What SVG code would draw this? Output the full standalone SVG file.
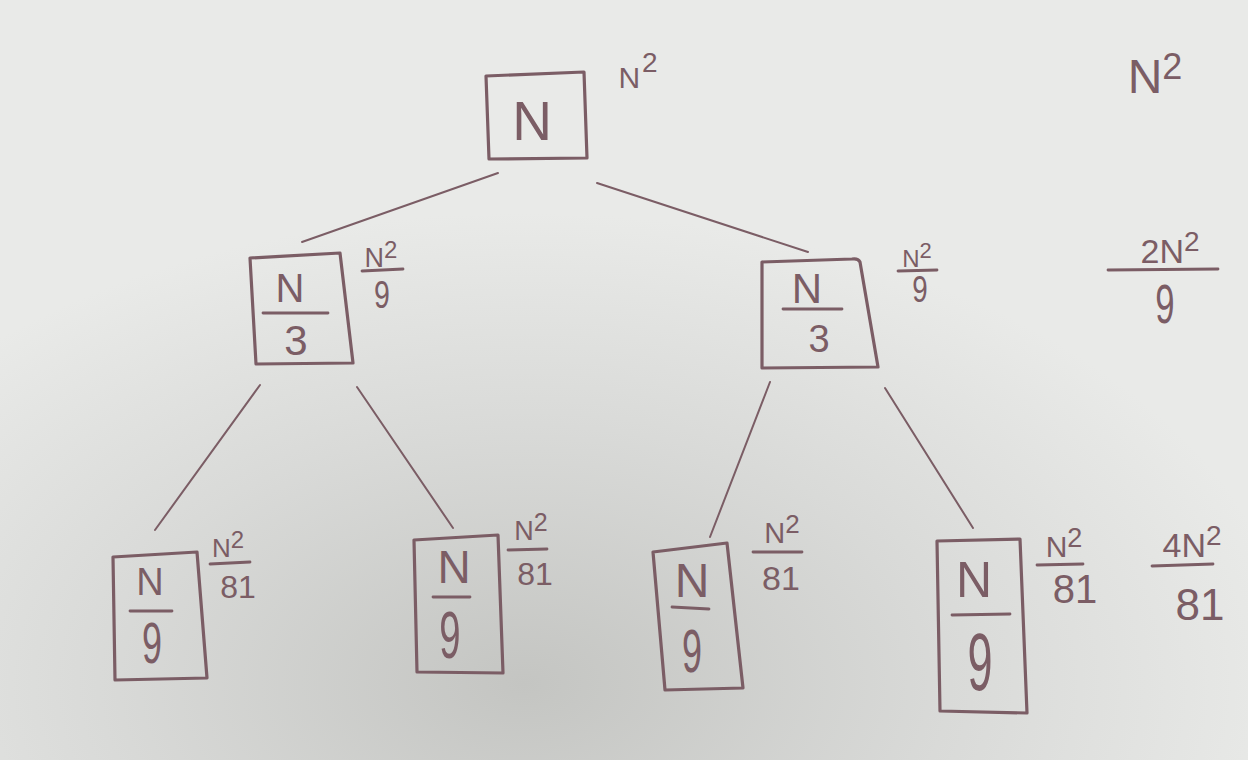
<svg xmlns="http://www.w3.org/2000/svg" width="1248" height="760" viewBox="0 0 1248 760">
<defs>
<radialGradient id="shade" cx="0.42" cy="0.9" r="0.62">
<stop offset="0" stop-color="#c4c5c2"/>
<stop offset="0.55" stop-color="#d9dad8"/>
<stop offset="1" stop-color="#e9eae8"/>
</radialGradient>
<style>
.box{fill:none;stroke:#7b5d65;stroke-width:3.2;stroke-linejoin:round}
.edge{fill:none;stroke:#7b5d65;stroke-width:2;stroke-linecap:round}
.bar{fill:none;stroke:#7b5d65;stroke-width:2.8;stroke-linecap:round}
.t{font-family:"Liberation Sans","DejaVu Sans",sans-serif;fill:#7b5d65;text-anchor:middle}
</style>
</defs>
<rect width="1248" height="760" fill="#e9eae8"/>
<rect width="1248" height="760" fill="url(#shade)"/>

<g id="connectors">
<line class="edge" x1="498" y1="173" x2="302" y2="242"/>
<line class="edge" x1="597" y1="183" x2="808" y2="252"/>
<line class="edge" x1="260" y1="385" x2="155" y2="530"/>
<line class="edge" x1="357" y1="387" x2="453" y2="528"/>
<line class="edge" x1="770" y1="382" x2="710" y2="537"/>
<line class="edge" x1="885" y1="388" x2="973" y2="528"/>
</g>

<g id="root">
<path class="box" d="M486 76 L584 72 L587 158 L489 159 Z"/>
<text class="t" x="532" y="140" font-size="55">N</text>
<text class="t" x="638" y="88" font-size="30">N<tspan dx="2" dy="-16" font-size="28">2</tspan></text>
</g>

<g id="left-mid">
<path class="box" d="M250 258 L340 253 L353 363 L256 364 Z"/>
<text class="t" x="290" y="302" font-size="40">N</text>
<line class="bar" x1="263" y1="313" x2="328" y2="313"/>
<text class="t" x="296" y="355" font-size="42">3</text>
<text class="t" x="381" y="267" font-size="27">N<tspan dy="-9" font-size="24">2</tspan></text>
<line class="bar" x1="362" y1="271" x2="403" y2="269"/>
<text class="t" transform="translate(382,308) scale(0.75,1)" font-size="38">9</text>
</g>

<g id="right-mid">
<path class="box" d="M762 262 L852 259 Q858 258 860 262 L878 367 L762 368 Z"/>
<text class="t" x="807" y="303" font-size="42">N</text>
<line class="bar" x1="783" y1="309" x2="842" y2="309"/>
<text class="t" x="819" y="352" font-size="38">3</text>
<text class="t" x="917" y="267" font-size="24">N<tspan dy="-9" font-size="22">2</tspan></text>
<line class="bar" x1="898" y1="271" x2="937" y2="270"/>
<text class="t" transform="translate(920,302) scale(0.75,1)" font-size="37">9</text>
</g>

<g id="leaf1">
<path class="box" d="M113 557 L197 552 L207 678 L115 680 Z"/>
<text class="t" x="150" y="595" font-size="38">N</text>
<line class="bar" x1="130" y1="611" x2="172" y2="611"/>
<text class="t" transform="translate(152,663) scale(0.62,1)" font-size="58">9</text>
<text class="t" x="228" y="557" font-size="26">N<tspan dy="-9" font-size="24">2</tspan></text>
<line class="bar" x1="210" y1="564" x2="250" y2="562"/>
<text class="t" x="238" y="598" font-size="32">81</text>
</g>

<g id="leaf2">
<path class="box" d="M414 540 L498 535 L503 673 L417 672 Z"/>
<text class="t" x="454" y="583" font-size="46">N</text>
<line class="bar" x1="433" y1="597" x2="470" y2="597"/>
<text class="t" transform="translate(450,658) scale(0.58,1)" font-size="66">9</text>
<text class="t" x="531" y="540" font-size="27">N<tspan dy="-9" font-size="25">2</tspan></text>
<line class="bar" x1="508" y1="550" x2="547" y2="549"/>
<text class="t" x="535" y="585" font-size="32">81</text>
</g>

<g id="leaf3">
<path class="box" d="M653 552 L727 543 L743 688 L665 690 Z"/>
<text class="t" x="692" y="597" font-size="48">N</text>
<line class="bar" x1="672" y1="607" x2="709" y2="609"/>
<text class="t" transform="translate(692,672) scale(0.58,1)" font-size="62">9</text>
<text class="t" x="782" y="543" font-size="29">N<tspan dy="-10" font-size="26">2</tspan></text>
<line class="bar" x1="753" y1="552" x2="802" y2="552"/>
<text class="t" x="781" y="590" font-size="34">81</text>
</g>

<g id="leaf4">
<path class="box" d="M937 541 L1020 539 L1027 713 L940 711 Z"/>
<text class="t" x="974" y="597" font-size="50">N</text>
<line class="bar" x1="952" y1="615" x2="1010" y2="614"/>
<text class="t" transform="translate(980,690) scale(0.55,1)" font-size="82">9</text>
<text class="t" x="1064" y="557" font-size="30">N<tspan dy="-10" font-size="27">2</tspan></text>
<line class="bar" x1="1037" y1="565" x2="1083" y2="564"/>
<text class="t" x="1075" y="603" font-size="40">81</text>
</g>

<g id="sums">
<text class="t" x="1155" y="93" font-size="48">N<tspan dy="-14" font-size="36">2</tspan></text>
<text class="t" x="1170" y="263" font-size="34">2N<tspan dy="-12" font-size="28">2</tspan></text>
<line class="bar" x1="1108" y1="270" x2="1218" y2="269"/>
<text class="t" transform="translate(1165,323) scale(0.62,1)" font-size="56">9</text>
<text class="t" x="1192" y="557" font-size="34">4N<tspan dy="-12" font-size="28">2</tspan></text>
<line class="bar" x1="1152" y1="566" x2="1213" y2="564"/>
<text class="t" x="1200" y="620" font-size="44">81</text>
</g>
</svg>
